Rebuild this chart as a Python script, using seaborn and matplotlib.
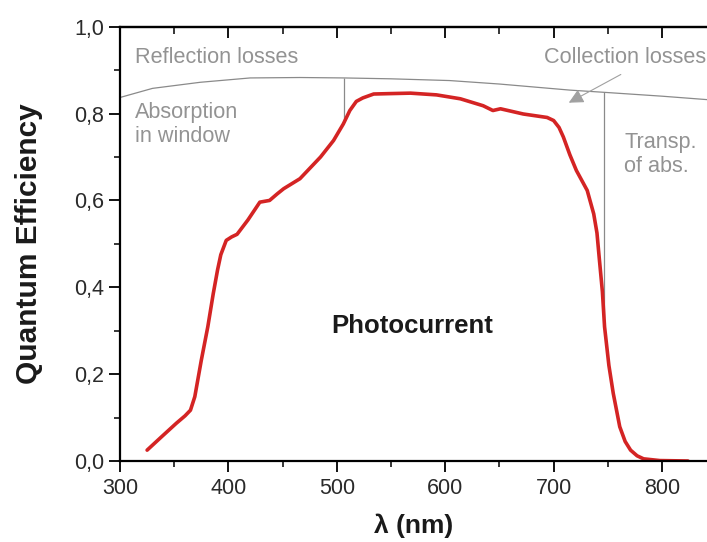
import matplotlib
matplotlib.use("Agg")
import matplotlib.pyplot as plt
import numpy as np
import pandas as pd
import seaborn as sns
from matplotlib.ticker import FuncFormatter, MultipleLocator, NullFormatter

# quantum efficiency curve
qe_wl = [325, 338, 352, 360, 365, 369, 375, 381, 386, 390, 393, 398, 403, 408, 418,
         429, 438, 445, 451, 466, 485, 497, 506, 512, 518, 524, 534, 550, 568, 592,
         614, 635, 644, 651, 672, 694, 700, 705, 709, 715, 721, 731, 737, 740, 742,
         745, 747, 751, 755, 761, 766, 771, 777, 783, 798, 824]
qe_val = [0.025, 0.055, 0.087, 0.104, 0.117, 0.148, 0.232, 0.309, 0.385, 0.440, 0.475,
          0.508, 0.516, 0.522, 0.555, 0.596, 0.600, 0.615, 0.627, 0.650, 0.700, 0.738,
          0.776, 0.807, 0.828, 0.836, 0.845, 0.846, 0.847, 0.843, 0.834, 0.818, 0.807,
          0.811, 0.799, 0.791, 0.784, 0.768, 0.746, 0.705, 0.669, 0.623, 0.569, 0.525,
          0.470, 0.390, 0.309, 0.220, 0.156, 0.079, 0.045, 0.025, 0.012, 0.005, 0.001,
          0.0]

# reflection loss boundary
refl_wl = [300, 330, 374, 420, 466, 507, 550, 604, 650, 715, 746, 800, 842]
refl_val = [0.837, 0.858, 0.872, 0.882, 0.883, 0.882, 0.880, 0.876, 0.868, 0.854,
            0.849, 0.840, 0.832]

# vertical separators
sep_absorption = 507
sep_transp = 746.5

xlim = (300, 841.5)
ylim = (0.0, 1.0)

sns.set_style("ticks")
plt.rcParams["font.family"] = ["Liberation Sans", "DejaVu Sans"]
plt.rcParams["text.color"] = "#1a1a1a"
plt.rcParams["axes.labelcolor"] = "#1a1a1a"
plt.rcParams["xtick.color"] = "black"
plt.rcParams["ytick.color"] = "black"
plt.rcParams["xtick.labelcolor"] = "#2a2a2a"
plt.rcParams["ytick.labelcolor"] = "#2a2a2a"

fig = plt.figure(figsize=(7.07, 5.42), dpi=100)
ax = fig.add_axes([120 / 707, 1 - 461 / 542, 1 - 120 / 707, (461 - 26.7) / 542])

gray_line = "#8a8a8a"
gray_text = "#939393"

refl = pd.DataFrame({"wl": refl_wl, "qe": refl_val})
sns.lineplot(data=refl, x="wl", y="qe", ax=ax, color=gray_line, lw=0.9)

qe = pd.DataFrame({"wl": qe_wl, "qe": qe_val})
ax.vlines(sep_absorption, np.interp(sep_absorption, qe_wl, qe_val),
          np.interp(sep_absorption, refl_wl, refl_val), color=gray_line, lw=0.9)
ax.vlines(sep_transp, np.interp(sep_transp, qe_wl, qe_val),
          np.interp(sep_transp, refl_wl, refl_val), color=gray_line, lw=0.9)

sns.lineplot(data=qe, x="wl", y="qe", ax=ax, color="#d42424", lw=2.6)

ax.set_xlim(*xlim)
ax.set_ylim(*ylim)

ax.text(314, 0.93, "Reflection losses", color=gray_text, fontsize=15.6, va="center")
ax.text(314, 0.775, "Absorption\nin window", color=gray_text, fontsize=15.6,
        va="center", linespacing=1.2)
ax.text(765, 0.705, "Transp.\nof abs.", color=gray_text, fontsize=15.6,
        va="center", linespacing=1.2)
ax.text(841, 0.93, "Collection losses", color=gray_text, fontsize=15.6,
        va="center", ha="right")
ax.annotate("", xy=(714, 0.825), xytext=(762, 0.89),
            arrowprops=dict(arrowstyle="-|>", color="#a0a0a0", lw=0.8,
                            mutation_scale=22, shrinkA=0, shrinkB=0))
ax.text(570, 0.31, "Photocurrent", fontsize=18.5, fontweight="bold",
        ha="center", va="center")

ax.set_xlabel("λ (nm)", fontsize=19, fontweight="bold", labelpad=11)
ax.set_ylabel("Quantum Efficiency", fontsize=21.5, fontweight="bold", labelpad=22)

ax.xaxis.set_major_locator(MultipleLocator(100))
ax.xaxis.set_minor_locator(MultipleLocator(50))
ax.yaxis.set_major_locator(MultipleLocator(0.2))
ax.yaxis.set_minor_locator(MultipleLocator(0.1))
ax.yaxis.set_major_formatter(FuncFormatter(lambda v, p: f"{v:.1f}".replace(".", ",")))

ax.tick_params(axis="both", which="major", labelsize=15.5, width=1.3, length=8,
               direction="out")
ax.tick_params(axis="both", which="minor", width=1.1, length=4, direction="out")
ax.xaxis.set_tick_params(which="major", pad=4)

for spine in ["left", "bottom", "top"]:
    ax.spines[spine].set_linewidth(1.6)
    ax.spines[spine].set_color("black")
ax.spines["right"].set_visible(False)

# top ticks point inward
top = ax.secondary_xaxis("top")
top.xaxis.set_major_locator(MultipleLocator(100))
top.xaxis.set_minor_locator(MultipleLocator(50))
top.xaxis.set_major_formatter(NullFormatter())
top.tick_params(which="major", direction="in", length=8, width=1.3)
top.tick_params(which="minor", direction="in", length=5, width=1.1)
top.spines["top"].set_linewidth(1.6)

fig.savefig("out.png", dpi=100, facecolor="white")
